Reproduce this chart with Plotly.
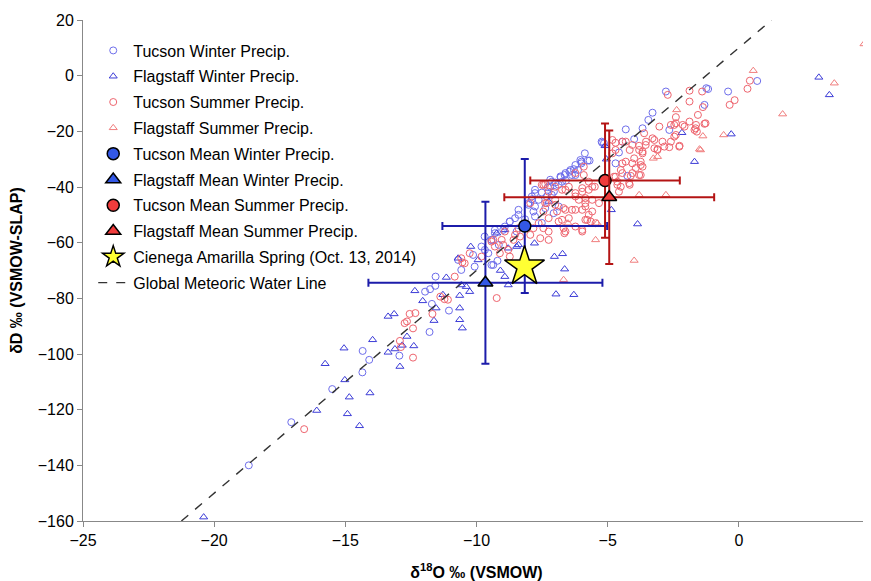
import plotly.graph_objects as go

# ---------------- data ----------------
tw_x = [-14.34, -14.09, -14.35, -15.50, -17.06, -18.68, -12.94,
        -11.56, -11.96, -11.77, -11.57, -11.70, -11.05, -11.79,
        -5.87, -6.04, -5.76, -6.23, -6.42, -6.13, -6.61, -6.36, -6.79, -6.59,
        -7.13, -6.87, -7.28, -7.51, -7.05, -7.77, -7.89, -7.63, -8.02, -7.38,
        -7.83, -8.40, -8.15, -8.73, -8.98, -8.47, -9.30, -9.69, -9.43, -9.15,
        -9.81, -9.55, -9.36, -9.20, -10.13, -10.07, -10.70, -10.58, -7.51,
        -2.78, -1.31, -1.24, -3.29, -3.45, -3.67, -2.65, -4.31, -3.99, -4.57,
        -4.70, -4.25, -5.23, -6.00, -6.80, -7.19, 0.70, -0.41, -1.17,
        -5.14, -5.69, -6.00, -6.29, -6.46, -6.64, -6.23, -6.74, -7.00, -7.19,
        -7.13, -7.32, -7.77, -7.89, -7.77, -8.02, -8.40, -8.53, -8.73, -8.92,
        -9.30, -9.43, -9.68, -9.43, -7.77, -6.87, -7.06, -5.21, -4.44]
tw_y = [-98.9, -102.1, -106.6, -112.6, -124.5, -140.0, -100.6,
        -72.2, -77.6, -76.7, -75.5, -82.0, -84.4, -92.1,
        -27.9, -30.3, -30.5, -32.1, -33.9, -33.9, -35.0, -35.7, -36.5, -37.7,
        -38.1, -39.2, -40.1, -42.0, -41.7, -41.0, -43.4, -44.6, -46.4, -47.6,
        -48.8, -50.0, -51.6, -52.4, -55.4, -56.0, -56.6, -57.8, -59.0, -60.8,
        -61.4, -63.8, -68.0, -66.5, -64.4, -68.6, -66.2, -69.8, -52.9,
        -5.7, -10.5, -4.5, -13.3, -15.9, -18.9, -19.5, -19.3, -22.8, -27.6,
        -31.5, -36.0, -23.7, -30.9, -36.2, -37.4, -1.9, -5.7, -4.8,
        -24.3, -30.5, -31.5, -33.6, -34.5, -35.7, -35.7, -38.1, -38.4, -39.9,
        -42.8, -43.4, -42.2, -44.4, -47.0, -45.8, -48.2, -51.2, -52.4, -54.2,
        -55.4, -59.0, -62.6, -68.0, -50.6, -47.0, -49.4, -24.1, -23.7]

fw_x = [-13.37, -13.14, -13.96, -15.05, -15.77, -15.02, -14.85, -14.06, -16.09,
        -14.92, -14.46, -20.40, -13.37, -13.11, -12.92,
        -11.15, -12.35, -12.05, -11.54, -11.62, -12.83, -12.39, -12.65,
        -7.03, -6.72, -6.64, -6.97, -6.29, -3.86, -4.86, -1.69, -2.17, -7.79,
        -8.40, -8.79, -9.23, -10.22, -10.70, -10.58, -10.26, -10.64, -10.64,
        -10.54, -9.09, -5.10, 3.05, 3.45, -0.29, -8.92, -10.64, -10.39, -8.92,
        -9.94, -11.28, -7.25, -8.47, -8.79, -5.05]
fw_y = [-86.5, -85.6, -94.9, -97.9, -103.5, -109.3, -115.5, -114.0, -120.3,
        -121.5, -125.8, -158.6, -99.4, -98.2, -104.5,
        -72.5, -77.3, -80.9, -83.5, -88.0, -96.9, -97.1, -93.7,
        -65.0, -64.0, -69.5, -78.5, -78.7, -53.3, -48.2, -30.9, -20.5, -60.2,
        -60.8, -75.2, -56.6, -61.4, -65.6, -75.2, -77.6, -83.5, -87.7,
        -90.7, -70.0, -25.2, -0.6, -6.9, -21.0, -55.4, -79.0, -75.8, -72.2,
        -66.2, -78.7, -45.2, -61.4, -62.0, -30.0]

ts_x = [-16.57,
        -11.38, -12.55, -12.33, -12.74, -12.65, -12.42, -12.92, -12.88, -12.42,
        -11.68, -11.22, -11.09,
        -7.45, -7.95, -7.38, -7.00, -6.93, -6.61, -6.74, -6.23, -5.78, -6.10,
        -5.85, -6.61, -7.25, -7.63, -7.95, -8.34, -8.59, -8.98, -9.36, -8.79,
        -8.73, -9.11, -9.81, -10.26, -10.58, -10.45, -10.83, -9.23, -5.72,
        -2.71, -1.88, -1.40, -1.88, -1.56, -1.27, -1.88, -2.07, -1.65, -1.60,
        -2.40, -2.59, -2.46, -2.26, -2.91, -3.22, -3.10, -2.65, -3.61, -3.54,
        -3.80, -3.67, -4.06, -4.16, -4.44, -4.70, -4.44, -4.06, -3.74, -3.80,
        -4.12, -4.44, -4.16, -4.63, -4.76, -5.91, -5.91, -6.23, -5.59, -5.97,
        -6.23, -5.85, -5.59, -5.65, -6.61, -7.00, -7.25, -7.38, -7.00, -7.32,
        -6.68, 0.33, 0.42, -0.35, -0.16, -10.54, -6.65, -5.97,
        -5.97, -5.72, -5.49, -5.85, -5.59, -5.97, -5.72, -5.85, -5.46, -6.36,
        -6.48, -6.23, -5.97, -6.68, -6.87, -7.45, -7.25, -7.45, -7.83, -7.57,
        -7.25, -8.40, -8.53, -8.92, -9.04, -9.43, -9.30, -6.48, -6.74, -6.23,
        -7.51,
        -1.37, -2.40, -2.46, -2.14, -1.63, -1.31, -1.69, -3.03, -3.29, -2.59,
        -2.40, -2.84, -3.22, -2.27, -3.55, -4.31, -4.70, -3.80, -3.67, -3.10,
        -3.99, -3.74, -4.31, -4.50, -3.93, -3.67, -4.06, -3.74, -4.70, -4.18,
        -4.50, -4.63, -4.82, -4.82, -5.33, -4.57]
ts_y = [-127.0,
        -79.4, -85.6, -85.3, -88.9, -88.3, -90.8, -95.3, -97.5, -101.3,
        -85.6, -80.3, -80.5,
        -39.2, -45.8, -45.8, -46.4, -48.8, -48.2, -51.8, -48.2, -51.8, -44.6,
        -47.0, -56.0, -56.0, -53.0, -57.2, -57.8, -59.0, -60.8, -59.0, -62.6,
        -65.0, -63.8, -65.0, -63.8, -65.6, -67.4, -72.2, -79.9, -41.0,
        -6.9, -5.4, -5.7, -9.3, -14.1, -17.1, -16.5, -18.3, -18.9, -20.1,
        -17.1, -17.7, -21.9, -25.2, -23.7, -23.1, -26.4, -25.7, -20.7, -23.7,
        -25.2, -27.9, -24.9, -26.7, -23.7, -24.1, -31.5, -31.5, -32.1, -35.7,
        -36.0, -35.0, -39.2, -39.2, -36.3, -32.7, -35.7, -35.0, -39.9, -41.7,
        -43.4, -45.8, -48.8, -52.4, -41.0, -39.9, -41.7, -39.0, -44.6, -45.8,
        -47.6, -4.7, -1.8, -10.5, -8.8, -67.1, -56.6, -55.4,
        -40.4, -38.1, -39.9, -44.0, -44.6, -48.2, -50.0, -51.8, -53.0, -48.2,
        -51.2, -54.2, -56.0, -54.8, -52.4, -48.8, -51.2, -54.8, -54.8, -58.4,
        -59.0, -54.8, -57.2, -56.0, -59.0, -59.6, -61.4, -39.9, -41.0, -42.2,
        -39.2,
        -11.3, -14.9, -17.7, -17.7, -17.7, -17.3, -19.5, -18.3, -22.5, -23.7,
        -21.3, -25.5, -26.1, -25.5, -24.9, -23.7, -26.7, -26.7, -27.3, -26.7,
        -29.7, -30.9, -30.9, -33.9, -33.2, -32.7, -35.0, -35.7, -36.3, -38.6,
        -39.9, -38.1, -23.1, -27.9, -45.8, -41.7]

fs_x = [4.77, 3.64, 1.67, 0.55, -0.58, -1.46, -1.37, -2.37, -3.26, -3.10,
        -3.80, -2.78, -3.99, -6.68, -5.46, -6.51, -1.50, -5.40]
fs_y = [11.4, -2.7, -13.8, 1.8, -21.3, -26.7, -21.7, -12.3, -29.7, -29.1,
        -42.8, -42.8, -66.4, -73.3, -59.0, -53.0, -26.4, -53.0]

# means and their error bars
mean_tw = dict(x=[-8.16], y=[-54.0], ex=[3.14], ey=[24.1])
mean_fw = dict(x=[-9.66], y=[-74.4], ex=[4.46], ey=[29.1])
mean_ts = dict(x=[-5.10], y=[-37.7], ex=[2.85], ey=[20.5])
mean_fs = dict(x=[-4.94], y=[-43.7], ex=[4.00], ey=[24.0])

spring_x = [-8.17]
spring_y = [-68.6]

gmwl_x = [-21.25, 1.25]
gmwl_y = [-160, 20]

# ---------------- figure ----------------
fig = go.Figure()

def add_scatter(x, y, name, symbol, color, rank):
    fig.add_trace(go.Scatter(
        x=x, y=y, mode="markers", name=name, legendrank=rank, legendgroup=name,
        marker=dict(symbol=symbol, size=7, color=color,
                    line=dict(color=color, width=1))))

add_scatter(tw_x, tw_y, "Tucson Winter Precip.", "circle-open", "rgb(110,110,235)", 1)
add_scatter(fw_x, fw_y, "Flagstaff Winter Precip.", "triangle-up-open", "rgb(60,60,215)", 2)
add_scatter(ts_x, ts_y, "Tucson Summer Precip.", "circle-open", "rgb(238,100,110)", 3)
add_scatter(fs_x, fs_y, "Flagstaff Summer Precip.", "triangle-up-open", "rgb(240,125,125)", 4)

fig.add_trace(go.Scatter(
    x=gmwl_x, y=gmwl_y, mode="lines", name="Global Meteoric Water Line",
    legendrank=10, legendgroup="gmwl",
    line=dict(color="#333333", width=1.4, dash="dash")))

def add_mean(d, name, symbol, fill, barcol, rank, size):
    fig.add_trace(go.Scatter(
        x=d["x"], y=d["y"], mode="markers", name=name, legendrank=rank, legendgroup=name,
        error_x=dict(type="data", array=d["ex"], color=barcol, thickness=2, width=4),
        error_y=dict(type="data", array=d["ey"], color=barcol, thickness=2, width=4),
        marker=dict(symbol=symbol, size=size, color=fill,
                    line=dict(color="black", width=1.5))))

add_mean(mean_tw, "Tucson Mean Winter Precip.", "circle", "#3358e6", "#1c1caa", 5, 12)
add_mean(mean_fw, "Flagstaff Mean Winter Precip.", "triangle-up", "#3358e6", "#1c1caa", 6, 13)
add_mean(mean_ts, "Tucson Mean Summer Precip.", "circle", "#f03c3c", "#b41414", 7, 12)
add_mean(mean_fs, "Flagstaff Mean Summer Precip.", "triangle-up", "#f03c3c", "#b41414", 8, 13)

fig.add_trace(go.Scatter(
    x=spring_x, y=spring_y, mode="markers", name="Cienega Amarilla Spring (Oct. 13, 2014)",
    legendrank=9, legendgroup="spring",
    marker=dict(symbol="star", size=30, color="#ffff33", line=dict(color="black", width=1.5))))

axis_common = dict(showgrid=False, zeroline=False, showline=True, linecolor="#888888",
                   linewidth=1, ticks="outside", ticklen=5, tickcolor="#888888",
                   automargin=False, ticklabeloverflow="allow",
                   tickfont=dict(size=16, color="black", family="Liberation Sans, Arial"))

fig.update_layout(
    width=863, height=573,
    margin=dict(l=75, r=1, t=12, b=60),
    paper_bgcolor="white", plot_bgcolor="white",
    font=dict(family="Liberation Sans, Arial", size=16, color="black"),
    showlegend=True,
    legend=dict(x=0.013, y=0.973, xanchor="left", yanchor="top",
                bgcolor="rgba(255,255,255,0)", traceorder="grouped",
                tracegroupgap=2, font=dict(size=16)),
    xaxis=dict(range=[-25, 5], dtick=5, tick0=-25,
               title=dict(text="<b>δ<sup>18</sup>O ‰ (VSMOW)</b>", standoff=19,
                          font=dict(size=16)),
               **axis_common),
    yaxis=dict(range=[-160, 20], dtick=20, tick0=-160,
               title=dict(text="<b>δD ‰ (VSMOW-SLAP)</b>", standoff=20,
                          font=dict(size=16)),
               **axis_common),
)

fig.write_html("out.html")
